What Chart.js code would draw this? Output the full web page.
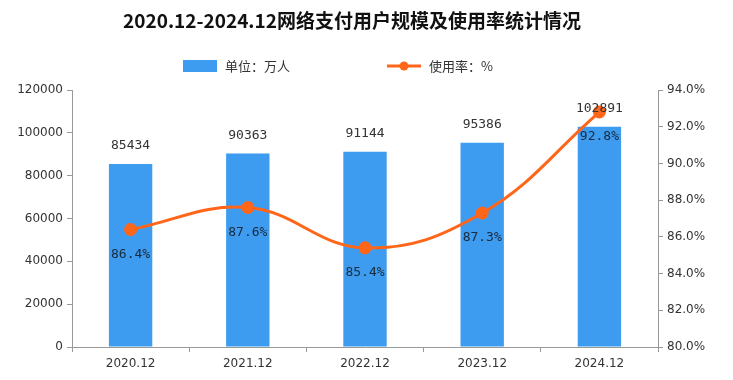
<!DOCTYPE html>
<html><head><meta charset="utf-8">
<script src="https://cdn.jsdelivr.net/npm/chart.js@4/dist/chart.umd.min.js"></script>
<style>html,body{margin:0;padding:0;background:#fff;}#wrap{width:733px;height:380px;}</style>
</head><body><div id="wrap"><canvas id="c" width="733" height="380"></canvas></div>
<script>
const categories = ["2020.12","2021.12","2022.12","2023.12","2024.12"];
const users = [85434, 90363, 91144, 95386, 102891];
const rate = [86.4, 87.6, 85.4, 87.3, 92.8];
const leftTicks = [0,20000,40000,60000,80000,100000,120000];
const rightTicks = [80,82,84,86,88,90,92,94];
const titleText = '2020.12-2024.12网络支付用户规模及使用率统计情况';
const barName = '单位：万人';
const lineName = '使用率：%';

const BAR = '#3D9BF0', LINE = '#FF6619';
const FONT = '"Noto Sans CJK SC","DejaVu Sans",sans-serif';
const TICKFONT = '"DejaVu Sans",sans-serif';
const MONO = '"DejaVu Sans Mono","Liberation Mono",monospace';

const headPlugin = {
  id:'head',
  afterDraw(chart){
    const ctx=chart.ctx;ctx.save();
    ctx.fillStyle='#111';ctx.textAlign='center';ctx.textBaseline='middle';
    ctx.font='bold 19px '+FONT;
    ctx.fillText(titleText,352,21);
    const y=66;
    ctx.fillStyle=BAR;ctx.fillRect(183,y-6,34,12);
    ctx.fillStyle='#333';ctx.textAlign='left';ctx.font='13px '+FONT;
    ctx.fillText(barName,225,y);
    ctx.strokeStyle=LINE;ctx.lineWidth=3;ctx.beginPath();ctx.moveTo(387,y);ctx.lineTo(421,y);ctx.stroke();
    ctx.fillStyle=LINE;ctx.beginPath();ctx.arc(404,y,4.5,0,Math.PI*2);ctx.fill();
    ctx.fillStyle='#333';ctx.fillText(lineName,429,y);
    ctx.restore();
  }
};

const labelPlugin = {
  id:'vals',
  afterDatasetsDraw(chart){
    const ctx=chart.ctx;ctx.save();
    ctx.font='13px '+MONO;
    ctx.textAlign='center';ctx.textBaseline='middle';
    ctx.fillStyle='#333';
    chart.getDatasetMeta(1).data.forEach((el,i)=>{ctx.fillText(String(users[i]),el.x,el.y-18);});
    ctx.fillStyle='#1a2a3a';
    chart.getDatasetMeta(0).data.forEach((el,i)=>{ctx.fillText(rate[i].toFixed(1)+'%',el.x,el.y+25);});
    ctx.restore();
  }
};

new Chart(document.getElementById('c'),{
  data:{labels:categories,datasets:[
    {type:'line',label:lineName,data:rate,yAxisID:'y1',borderColor:LINE,backgroundColor:LINE,borderWidth:3,pointRadius:5,pointBackgroundColor:LINE,pointBorderColor:LINE,tension:0.4,order:0},
    {type:'bar',label:barName,data:users,yAxisID:'y',backgroundColor:BAR,categoryPercentage:0.37,barPercentage:1,order:1}
  ]},
  options:{
    responsive:false,animation:false,
    layout:{padding:{top:90,left:0,right:0,bottom:0}},
    plugins:{legend:{display:false},title:{display:false},tooltip:{enabled:false}},
    scales:{
      x:{grid:{display:true,drawOnChartArea:false,drawTicks:true,tickLength:5,color:'#999',offset:true},border:{color:'#999'},
         ticks:{color:'#333',font:{family:TICKFONT,size:12},padding:5},afterFit(s){s.height=33;}},
      y:{position:'left',min:0,max:120000,afterBuildTicks(s){s.ticks=leftTicks.map(v=>({value:v}));},
         grid:{drawOnChartArea:false,tickLength:5,color:'#999'},border:{color:'#999'},
         ticks:{color:'#333',font:{family:TICKFONT,size:12},padding:4,callback:v=>String(v)},afterFit(s){s.width=72;}},
      y1:{position:'right',min:80,max:94,afterBuildTicks(s){s.ticks=rightTicks.map(v=>({value:v}));},
         grid:{drawOnChartArea:false,tickLength:5,color:'#999'},border:{color:'#999'},
         ticks:{color:'#333',font:{family:TICKFONT,size:12},padding:4,callback:v=>v.toFixed(1)+'%'},afterFit(s){s.width=75;}}
    }
  },
  plugins:[labelPlugin,headPlugin]
});
</script></body></html>
